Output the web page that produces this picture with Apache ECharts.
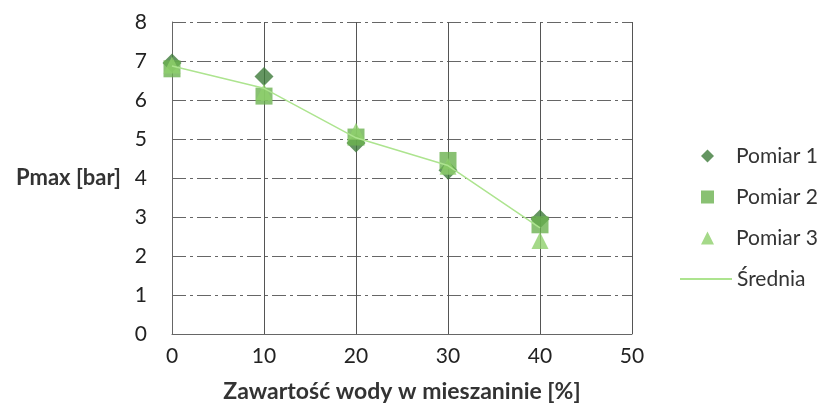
<!DOCTYPE html>
<html>
<head>
<meta charset="utf-8">
<script src="https://cdn.jsdelivr.net/npm/echarts@6/dist/echarts.min.js"></script>
<style>html,body{margin:0;padding:0;background:#fff;}#c{width:829px;height:414px;}</style>
</head>
<body>
<div id="c"></div>
<script>
const xValues = [0, 10, 20, 30, 40];
const pomiar1 = [6.95, 6.6, 4.9, 4.2, 2.95];
const pomiar2 = [6.8, 6.1, 5.05, 4.45, 2.8];
const pomiar3 = [6.9, 6.2, 5.2, 4.3, 2.4];
const srednia = [6.87, 6.3, 5.03, 4.32, 2.72];
const seriesNames = ['Pomiar 1', 'Pomiar 2', 'Pomiar 3', 'Średnia'];
const xAxisTitle = 'Zawartość wody w mieszaninie [%]';
const yAxisTitle = 'Pmax [bar]';

const pair = arr => xValues.map((x, i) => [x, arr[i]]);
const font = 'Lato, "Open Sans", sans-serif';
const colors = ['#3d7b39', '#6cb150', '#8fd06c', '#ade48f'];

const chart = echarts.init(document.getElementById('c'), null, {renderer: 'canvas'});
chart.setOption({
  animation: false,
  backgroundColor: '#ffffff',
  textStyle: {fontFamily: font},
  grid: {left: 172, right: 197, top: 22, bottom: 80, containLabel: false},
  xAxis: {
    type: 'value', min: 0, max: 50, interval: 10,
    name: xAxisTitle, nameLocation: 'middle', nameGap: 46,
    nameTextStyle: {fontSize: 23, fontWeight: 'bold', color: '#333', fontFamily: font},
    axisLine: {show: true, lineStyle: {color: '#666'}},
    axisTick: {show: false},
    axisLabel: {fontSize: 21, color: '#222', margin: 12, fontFamily: font},
    splitLine: {show: true, lineStyle: {color: '#555', width: 1}}
  },
  yAxis: {
    type: 'value', min: 0, max: 8, interval: 1,
    name: yAxisTitle, nameLocation: 'middle', nameRotate: 0, nameGap: 51,
    nameTextStyle: {fontSize: 22, fontWeight: 'bold', color: '#333', fontFamily: font},
    axisLine: {show: true, lineStyle: {color: '#666'}},
    axisTick: {show: false},
    axisLabel: {fontSize: 21, color: '#222', margin: 25, fontFamily: font},
    splitLine: {show: true, lineStyle: {color: '#666', width: 1, type: [14, 4, 3, 4]}}
  },
  legend: [{
    orient: 'vertical', left: 696, top: 139,
    itemWidth: 13, itemHeight: 13, itemGap: 17,
    data: [seriesNames[0], seriesNames[1], seriesNames[2]],
    textStyle: {fontSize: 21, lineHeight: 24, color: '#333', fontFamily: font, padding: [0, 0, 0, 17]}
  }, {
    orient: 'vertical', left: 675, top: 262,
    itemWidth: 52, itemHeight: 2, itemGap: 17,
    data: [{name: seriesNames[3], icon: 'path://M0,0 L52,0 L52,2 L0,2 Z'}],
    textStyle: {fontSize: 21, lineHeight: 24, color: '#333', fontFamily: font}
  }],
  series: [
    {name: seriesNames[0], type: 'scatter', symbol: 'diamond', symbolSize: 19,
     itemStyle: {color: colors[0]}, data: pair(pomiar1), z: 3},
    {name: seriesNames[1], type: 'scatter', symbol: 'rect', symbolSize: 17,
     itemStyle: {color: colors[1]}, data: pair(pomiar2), z: 4},
    {name: seriesNames[2], type: 'scatter', symbol: 'triangle', symbolSize: 17,
     itemStyle: {color: colors[2]}, data: pair(pomiar3), z: 5},
    {name: seriesNames[3], type: 'line', symbol: 'none', showSymbol: false,
     lineStyle: {color: colors[3], width: 1.5}, itemStyle: {color: colors[3]},
     data: pair(srednia), z: 6}
  ]
});
</script>
</body>
</html>
